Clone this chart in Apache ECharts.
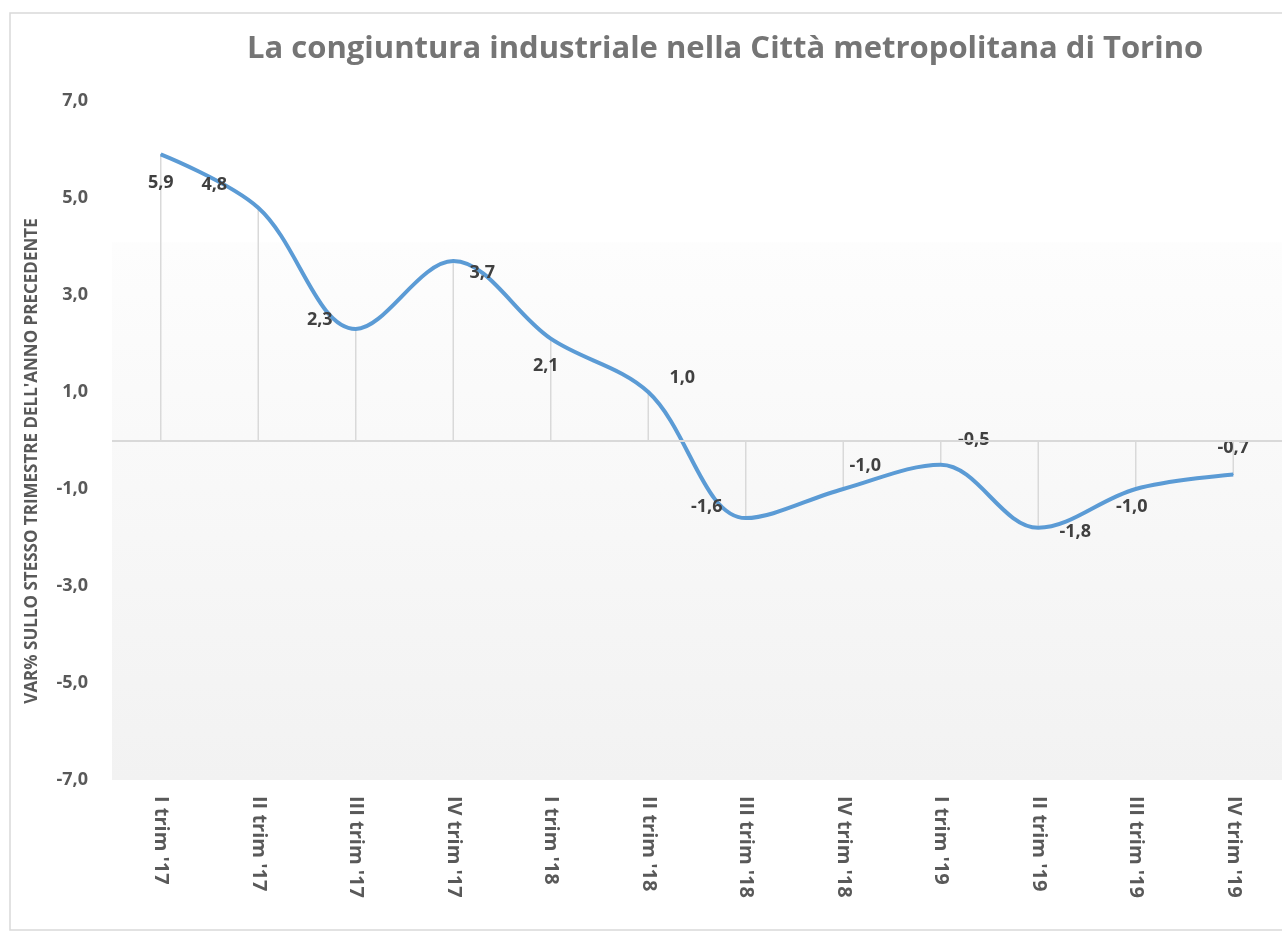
<!DOCTYPE html>
<html>
<head>
<meta charset="utf-8">
<script src="https://cdn.jsdelivr.net/npm/echarts@6/dist/echarts.min.js"></script>
<style>
  html, body { margin: 0; padding: 0; background: #ffffff; }
  #chart { width: 1282px; height: 933px; }
</style>
</head>
<body>
<div id="chart"></div>
<script>
const titleText = "La congiuntura industriale nella Città metropolitana di Torino";
const yAxisTitle = "VAR% SULLO STESSO TRIMESTRE DELL'ANNO PRECEDENTE";
const categories = ["I trim '17", "II trim '17", "III trim '17", "IV trim '17",
                    "I trim '18", "II trim '18", "III trim '18", "IV trim '18",
                    "I trim '19", "II trim '19", "III trim '19", "IV trim '19"];
const values = [5.9, 4.8, 2.3, 3.7, 2.1, 1.0, -1.6, -1.0, -0.5, -1.8, -1.0, -0.7];
const labelOffsets = [[0, 29], [-44, -23], [-36, -9], [29, 12], [-5, 27], [34, -14],
                      [-39, -11], [22, -23], [33, -25], [37, 4], [-4, 18], [0, -27]];

const fontFamily = "'Open Sans', Lato, sans-serif";
const fmt = v => v.toFixed(1).replace('.', ',');

const chart = echarts.init(document.getElementById('chart'), null, { renderer: 'canvas' });

const option = {
  backgroundColor: '#ffffff',
  animation: false,
  title: {
    text: titleText,
    left: 242,
    top: 29,
    textStyle: { fontFamily, fontSize: 31, fontWeight: 'bold', color: '#757575' }
  },
  graphic: [
    {
      type: 'rect',
      shape: { x: 10, y: 13, width: 1300, height: 917 },
      style: { fill: 'none', stroke: '#d9d9d9', lineWidth: 1.5 },
      z: -10, silent: true
    },
    {
      type: 'text',
      x: 32, y: 461,
      rotation: Math.PI / 2,
      style: {
        text: yAxisTitle,
        fontFamily, fontSize: 17, fontWeight: 'bold', fill: '#595959',
        align: 'center', verticalAlign: 'middle'
      },
      silent: true
    }
  ],
  grid: {
    left: 112, right: 0, top: 101, bottom: 153,
    show: true,
    borderWidth: 0,
    backgroundColor: new echarts.graphic.LinearGradient(0, 0, 0, 1, [
      { offset: 0, color: '#ffffff' },
      { offset: 0.207, color: '#ffffff' },
      { offset: 0.209, color: '#fdfdfd' },
      { offset: 1, color: '#f2f2f2' }
    ])
  },
  xAxis: {
    type: 'category',
    data: categories,
    boundaryGap: true,
    axisLine: { show: false, onZero: false },
    axisTick: { show: false },
    splitLine: { show: false },
    axisLabel: {
      rotate: -90,
      margin: 16,
      fontFamily, fontSize: 20, fontWeight: 'bold', color: '#595959',
      interval: 0
    }
  },
  yAxis: {
    type: 'value',
    min: -7, max: 7, interval: 2,
    axisLine: { show: false },
    axisTick: { show: false },
    splitLine: { show: false },
    axisLabel: {
      margin: 24,
      fontFamily, fontSize: 18, fontWeight: 'bold', color: '#595959',
      formatter: v => fmt(v)
    }
  },
  series: [
    {
      type: 'bar',
      data: values,
      barWidth: 1.5,
      itemStyle: { color: '#d9d9d9' },
      silent: true,
      z: 1,
      markLine: {
        silent: true,
        symbol: ['none', 'none'],
        label: { show: false },
        lineStyle: { color: '#d9d9d9', width: 2, type: 'solid' },
        data: [{ yAxis: 0 }]
      }
    },
    {
      type: 'line',
      data: values.map((v, i) => ({
        value: v,
        label: { offset: labelOffsets[i] }
      })),
      smooth: 0.35,
      symbol: 'circle',
      symbolSize: 1,
      showSymbol: true,
      z: 3,
      lineStyle: { color: '#5b9bd5', width: 4 },
      itemStyle: { color: '#5b9bd5' },
      label: {
        show: true,
        position: 'inside',
        fontFamily, fontSize: 18, fontWeight: 'bold', color: '#404040',
        formatter: p => fmt(p.value)
      }
    }
  ]
};

chart.setOption(option);
</script>
</body>
</html>
